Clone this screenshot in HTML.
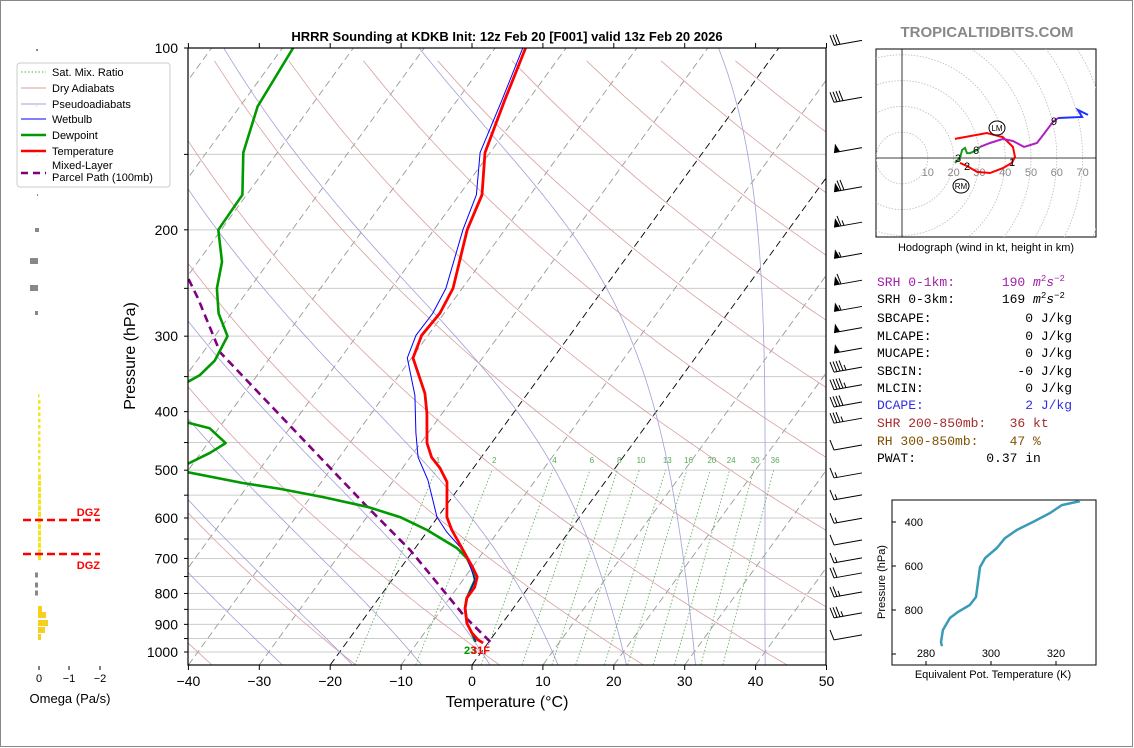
<!DOCTYPE html>
<html><head><meta charset="utf-8"><style>
body{margin:0;background:#fff;}
svg{display:block;font-family:"Liberation Sans",sans-serif;}
.mono{font-family:"Liberation Mono",monospace;font-size:13px;}
</style></head><body>
<svg id="root" width="1134" height="748" viewBox="0 0 1134 748" xmlns="http://www.w3.org/2000/svg">
<rect x="0.5" y="0.5" width="1132" height="746" fill="#fff" stroke="#888"/>
<defs><clipPath id="plotclip"><rect x="188" y="48" width="638" height="617"/></clipPath>
<clipPath id="hodoclip"><rect x="876" y="49" width="220" height="188"/></clipPath>
<clipPath id="theclip"><rect x="892" y="500" width="204" height="165"/></clipPath></defs>
<g id="bg" clip-path="url(#plotclip)"></g>
<g id="traces" clip-path="url(#plotclip)"></g>
<g id="axes"></g>
<text x="507" y="41" text-anchor="middle" font-size="13" font-weight="bold">HRRR Sounding at KDKB Init: 12z Feb 20 [F001] valid 13z Feb 20 2026</text>
<text x="987" y="37" text-anchor="middle" font-size="15" font-weight="bold" fill="#888">TROPICALTIDBITS.COM</text>
<text x="507" y="707" text-anchor="middle" font-size="16">Temperature (°C)</text>
<text x="135" y="356" text-anchor="middle" font-size="16" transform="rotate(-90 135 356)">Pressure (hPa)</text>
<g id="omega"></g>
<g id="legend"></g>
<g id="barbs"></g>
<g id="hodo"></g>
<g id="thetae"></g>
<g id="params">
<text class="mono" x="877" y="286" fill="#a020a8" xml:space="preserve">SRH 0-1km:      190 <tspan font-style="italic">m</tspan><tspan font-size="9" dy="-5">2</tspan><tspan font-style="italic" dy="5">s</tspan><tspan font-size="9" dy="-5">−2</tspan></text>
<text class="mono" x="877" y="303" fill="#000" xml:space="preserve">SRH 0-3km:      169 <tspan font-style="italic">m</tspan><tspan font-size="9" dy="-5">2</tspan><tspan font-style="italic" dy="5">s</tspan><tspan font-size="9" dy="-5">−2</tspan></text>
<text class="mono" x="877" y="322" xml:space="preserve">SBCAPE:            0 J/kg</text>
<text class="mono" x="877" y="340" xml:space="preserve">MLCAPE:            0 J/kg</text>
<text class="mono" x="877" y="357" xml:space="preserve">MUCAPE:            0 J/kg</text>
<text class="mono" x="877" y="375" xml:space="preserve">SBCIN:            -0 J/kg</text>
<text class="mono" x="877" y="392" xml:space="preserve">MLCIN:             0 J/kg</text>
<text class="mono" x="877" y="409" fill="#3030e0" xml:space="preserve">DCAPE:             2 J/kg</text>
<text class="mono" x="877" y="427" fill="#a52a2a" xml:space="preserve">SHR 200-850mb:   36 kt</text>
<text class="mono" x="877" y="445" fill="#7f5000" xml:space="preserve">RH 300-850mb:    47 %</text>
<text class="mono" x="877" y="462" xml:space="preserve">PWAT:         0.37 in</text>
</g>
</svg>
<script>
// ---------- data ----------
const tempP = [100,122,149,175,200,250,275,299,326,373,402,451,476,496,523,598,628,686,723,751,781,814,846,896,930,955,966];
const tempT = [-55.7,-53.3,-50.7,-46.8,-45.3,-41.3,-40.6,-40.9,-39.8,-34.5,-32.2,-29.1,-27.0,-24.7,-22.3,-18.7,-16.7,-12.5,-10.0,-8.3,-7.6,-7.6,-6.8,-5.0,-3.3,-1.7,-0.7];
const dewP = [100,125,149,175,200,226,250,275,300,329,348,371,410,426,451,468,500,504,525,537,554,575,598,628,673,699,732,760,814,846,896,930,962];
const dewT = [-88.5,-87.5,-84.8,-80.6,-80.4,-76.6,-74.6,-71.8,-68.2,-67.5,-68.1,-70.6,-67.9,-61.3,-57.5,-58.7,-61.9,-59.8,-51.0,-45.1,-38.2,-31.0,-25.3,-20.2,-14.1,-11.7,-9.6,-8.3,-7.6,-6.8,-5.0,-3.3,-1.9];
const wbP = [100,122,149,175,200,250,275,299,326,376,434,476,519,598,633,670,699,732,760,814,846,896,930,962];
const wbT = [-56.1,-53.7,-51.4,-47.6,-45.9,-42.3,-41.6,-41.7,-40.6,-35.7,-31.7,-28.9,-25.2,-20.1,-17.2,-13.8,-11.7,-9.8,-8.3,-7.6,-6.8,-5.0,-3.3,-1.8];
const parcelP = [962,875,678,575,319,260,200];
const parcelT = [0.2,-5.9,-20.5,-31.0,-67.6,-76.2,-88];
const barbP = [99,123,149,173,198,223,247,273,296,320,344,368,393,418,463,515,560,612,665,712,754,811,878,955];
const barbSpd = [30,40,50,70,65,55,60,55,50,50,45,45,40,35,10,15,15,15,10,15,20,25,35,10];
const mixW = [1,2,4,6,8,10,13,16,20,24,30,36];
const pLevels = [100,150,200,250,300,350,400,450,500,550,600,650,700,750,800,850,900,950,1000];
const pLabels = [100,200,300,400,500,600,700,800,900,1000];
const tTicks = [-40,-30,-20,-10,0,10,20,30,40,50];
const hodoRedU=[20.5,32.9,39.1,43.0,43.8,42.6,39.1,34.1,29.1,25.2,22.5];
const hodoRedV=[7.4,9.7,8.1,4.3,0.4,-1.9,-3.9,-5.8,-5.4,-3.1,-1.9];
const hodoGreenU=[20.5,22.5,23.3,24.4,25.2,26.4,29.1,30.2];
const hodoGreenV=[-1.9,0,3.1,3.9,1.9,1.9,3.1,4.3];
const hodoPurpleU=[30.2,34.1,39.1,43.0,47.3,52.3,54.7,58.5,60.5];
const hodoPurpleV=[4.3,5.8,7.4,6.6,4.3,5.8,8.9,14.0,15.5];
const hodoBlueU=[60.5,69.8,68.2,72.1];
const hodoBlueV=[15.5,15.9,18.6,16.7];
const thetaE=[284.9,284.6,285.2,287.4,289.8,293.5,295.4,296.6,298.2,301.8,304.3,308.0,312.9,318.2,321.8,327.4];
const thetaEP=[964,945,891,836,809,777,741,605,564,518,473,436,400,359,323,305];
// ---------- helpers ----------
const NS="http://www.w3.org/2000/svg";
function mk(parent,tag,attrs,text){const e=document.createElementNS(NS,tag);for(const k in attrs)e.setAttribute(k,attrs[k]);if(text!==undefined)e.textContent=text;parent.appendChild(e);return e;}
const X0=472,KX=7.09,SK=0.727,YB=665,Y1000=652,DEC=604;
function py(p){return Y1000-DEC*Math.log10(1000/p);}
function px(T,p){return X0+KX*T+SK*(YB-py(p));}
function pathPT(P,T){return P.map((p,i)=>(i?'L':'M')+px(T[i],p).toFixed(1)+','+py(p).toFixed(1)).join('');}
const bg=document.getElementById('bg'),tr=document.getElementById('traces'),ax=document.getElementById('axes');
for(const p of pLevels){const l=mk(bg,'line',{x1:188,x2:826,y1:py(p),y2:py(p),stroke:'#ccc','stroke-width':1});

}
for(let T=-140;T<=50;T+=10){const pt=1050,pb=90;const blk=(T===0||T===-20);
const l=mk(bg,'line',{x1:px(T,pt),y1:py(pt),x2:px(T,pb),y2:py(pb),stroke:blk?'#000':'#999','stroke-width':0.9,'stroke-dasharray':'7,4'});

}
for(let t0=-40;t0<=200;t0+=20){let d='';for(let p=1050;p>=95;p-=15){const T=(t0+273.15)*Math.pow(p/1000,0.286)-273.15;d+=(d?'L':'M')+px(T,p).toFixed(1)+','+py(p).toFixed(1);}
const l=mk(bg,'path',{d:d,fill:'none',stroke:'#d9a0a0','stroke-width':0.8});

}
function dTdp(T,p){const Rd=287.04,Cp=1004,L=2.501e6,eps=0.622;const es=6.112*Math.exp(17.67*(T-273.15)/(T-29.65));const rs=eps*es/(p-es);return ((Rd*T+L*rs)/p)/(Cp+L*L*rs*eps/(Rd*T*T));}
for(let t0=-30;t0<=45;t0+=10){let T=t0+273.15,d='';
let Tb=T;for(let p=1000;p<1050;p+=5){Tb+=dTdp(Tb,p)*5;}
let Tc=Tb;for(let p=1050;p>=100;p-=5){d+=(d?'L':'M')+px(Tc-273.15,p).toFixed(1)+','+py(p).toFixed(1);Tc-=dTdp(Tc,p)*5;}
const l=mk(bg,'path',{d:d,fill:'none',stroke:'#a0a0d8','stroke-width':0.8});

}
function tdW(w,p){const e=w*p/(622+w);const a=Math.log(e/6.112);return 243.5*a/(17.67-a);}
for(const w of mixW){const x1=px(tdW(w,1050),1050),x2=px(tdW(w,500),500);
const l=mk(bg,'line',{x1:x1,y1:py(1050),x2:x2,y2:py(500),stroke:'#5a5','stroke-width':0.8,'stroke-dasharray':'1.5,2'});


const t=mk(bg,'text',{x:px(tdW(w,490),490),y:py(490)-2,'font-size':8,fill:'#5a5','text-anchor':'middle'},String(w));

}
let e;
e=mk(tr,'path',{d:pathPT(parcelP,parcelT),fill:'none',stroke:'#800080','stroke-width':2.6,'stroke-dasharray':'8,5'});


e=mk(tr,'path',{d:pathPT(dewP,dewT),fill:'none',stroke:'#009900','stroke-width':2.6,'stroke-linejoin':'round'});


e=mk(tr,'path',{d:pathPT(wbP,wbT),fill:'none',stroke:'#0000ff','stroke-width':1});


e=mk(tr,'path',{d:pathPT(tempP,tempT),fill:'none',stroke:'#ff0000','stroke-width':2.8,'stroke-linejoin':'round'});


e=mk(tr,'text',{x:464,y:654,'font-size':11,'font-weight':'bold',fill:'#009900'},'23');


e=mk(tr,'text',{x:471,y:654,'font-size':11,'font-weight':'bold',fill:'#ff0000'},'31F');


e=mk(ax,'rect',{x:188,y:48,width:638,height:617,fill:'none',stroke:'#000','stroke-width':1.2});


for(const p of pLevels){mk(ax,'line',{x1:184,x2:188,y1:py(p),y2:py(p),stroke:'#000'});}
for(const p of pLabels){e=mk(ax,'text',{x:178,y:py(p)+5,'font-size':14,'text-anchor':'end'},String(p));

}
for(const T of tTicks){const x=X0+KX*T;mk(ax,'line',{x1:x,x2:x,y1:665,y2:670,stroke:'#000'});mk(ax,'line',{x1:x,x2:x,y1:48,y2:43,stroke:'#000'});
e=mk(ax,'text',{x:x,y:686,'font-size':14,'text-anchor':'middle'},(T<0?'−':'')+Math.abs(T));

}
const om=document.getElementById('omega');
const omGray=[[50,36,38,2],[106,35,38,2],[155,36,38,2],[195,37,38,2],[230,35,39,4],[261,30,38,6],[288,30,38,6],[313,35,38,4],[575,35,38,5],[585,35,38,5],[593,35,38,5]];
for(const b of omGray){e=mk(om,'rect',{x:b[1],y:b[0]-b[3]/2,width:b[2]-b[1],height:b[3],fill:'#888'});

}
for(let y=394;y<=560;y+=6.2){const w=(y>400&&y<560)?(y>470?3:2.5):1.5;e=mk(om,'rect',{x:38,y:y,width:w,height:(y>470?5:3.5),fill:'#f4e320'});

}
const omY=[[606,38,42],[612,38,46],[620,38,48],[627,38,45],[634,38,41]];
for(const b of omY){e=mk(om,'rect',{x:b[1],y:b[0],width:b[2]-b[1],height:6,fill:'#f7cf20'});

}
for(const y of [520,554]){e=mk(om,'line',{x1:23,x2:100,y1:y,y2:y,stroke:'#ff0000','stroke-width':2.5,'stroke-dasharray':'8,4'});

}
e=mk(om,'text',{x:100,y:516,'font-size':11,'font-weight':'bold',fill:'#ff0000','text-anchor':'end'},'DGZ');


e=mk(om,'text',{x:100,y:569,'font-size':11,'font-weight':'bold',fill:'#ff0000','text-anchor':'end'},'DGZ');


[[39,'0'],[69,'−1'],[100,'−2']].forEach(t=>{mk(om,'line',{x1:t[0],x2:t[0],y1:666,y2:670,stroke:'#000'});
e=mk(om,'text',{x:t[0],y:682,'font-size':11,'text-anchor':'middle'},t[1]);

});
e=mk(om,'text',{x:70,y:703,'font-size':13,'text-anchor':'middle'},'Omega (Pa/s)');


const lg=document.getElementById('legend');
mk(lg,'rect',{x:17,y:63,width:153,height:124,rx:3,fill:'#fff','fill-opacity':0.9,stroke:'#ccc'});
const legItems=[['Sat. Mix. Ratio','#5a5',1,'1.5,2',72],['Dry Adiabats','#d9a0a0',1,'',88],['Pseudoadiabats','#a0a0d8',1,'',104],['Wetbulb','#0000ff',1,'',119],['Dewpoint','#009900',2.6,'',135],['Temperature','#ff0000',2.6,'',151]];
for(const it of legItems){mk(lg,'line',{x1:21,x2:46,y1:it[4],y2:it[4],stroke:it[1],'stroke-width':it[2],'stroke-dasharray':it[3]});
e=mk(lg,'text',{x:52,y:it[4]+4,'font-size':11},it[0]);

}
mk(lg,'line',{x1:21,x2:46,y1:173,y2:173,stroke:'#800080','stroke-width':2.6,'stroke-dasharray':'7,5'});
e=mk(lg,'text',{x:52,y:169,'font-size':11},'Mixed-Layer');


e=mk(lg,'text',{x:52,y:181,'font-size':11},'Parcel Path (100mb)');


const bb=document.getElementById('barbs');
for(let i=0;i<barbP.length;i++){const y=py(barbP[i]);const g=mk(bb,'g',{});


const xs=834,xe=862,ye=y-5;mk(g,'line',{x1:xs,y1:y,x2:xe,y2:ye,stroke:'#000','stroke-width':1});
let s=barbSpd[i],pos=0;const dx=(xe-xs)/28,dy=(ye-y)/28;
while(s>=50){const bx=xs+pos*dx,by=y+pos*dy;mk(g,'polygon',{points:`${bx},${by} ${bx+6*dx},${by+6*dy} ${bx+1},${by-9}`,fill:'#000'});pos+=7;s-=50;}
while(s>=10){const bx=xs+pos*dx,by=y+pos*dy;mk(g,'line',{x1:bx,y1:by,x2:bx-4,y2:by-10,stroke:'#000'});pos+=3;s-=10;}
if(s>=5){const bx=xs+pos*dx,by=y+pos*dy;mk(g,'line',{x1:bx,y1:by,x2:bx-2,y2:by-5,stroke:'#000'});}
}
const hd=document.getElementById('hodo');const HX=902,HY=158,HK=2.58;
e=mk(hd,'rect',{x:876,y:49,width:220,height:188,fill:'#fff',stroke:'#000'});


const hg=mk(hd,'g',{'clip-path':'url(#hodoclip)'});
for(let r=10;r<=80;r+=10){mk(hg,'circle',{cx:HX,cy:HY,r:r*HK,fill:'none',stroke:'#bbb','stroke-width':0.8,'stroke-dasharray':'1.5,1.5'});}
mk(hg,'line',{x1:876,x2:1096,y1:HY,y2:HY,stroke:'#000','stroke-width':0.8});
mk(hg,'line',{x1:HX,x2:HX,y1:49,y2:237,stroke:'#000','stroke-width':0.8});
for(let r=10;r<=70;r+=10){mk(hg,'text',{x:HX+r*HK,y:HY+18,'font-size':11,fill:'#888','text-anchor':'middle'},String(r));}
function hpath(U,V){return U.map((u,i)=>(i?'L':'M')+(HX+u*HK).toFixed(1)+','+(HY-V[i]*HK).toFixed(1)).join('');}
[[hodoRedU,hodoRedV,'#ff0000','hodo-0-3km'],[hodoGreenU,hodoGreenV,'#1a9a1a','hodo-3-6km'],[hodoPurpleU,hodoPurpleV,'#b020c0','hodo-6-9km'],[hodoBlueU,hodoBlueV,'#2030ff','hodo-9km-plus']].forEach(s=>{
e=mk(hg,'path',{d:hpath(s[0],s[1]),fill:'none',stroke:s[2],'stroke-width':2});

});
[['1',1012,166],['2',967,170],['3',958,162],['6',976,154],['9',1054,125]].forEach(t=>{mk(hg,'text',{x:t[1],y:t[2],'font-size':11,'text-anchor':'middle'},t[0]);});
[['LM',997,128],['RM',961,186]].forEach(t=>{mk(hg,'ellipse',{cx:t[1],cy:t[2],rx:8,ry:7,fill:'#fff',stroke:'#000','stroke-width':1});mk(hg,'text',{x:t[1],y:t[2]+3,'font-size':8,'text-anchor':'middle'},t[0]);});
e=mk(hd,'text',{x:986,y:251,'font-size':11,'text-anchor':'middle'},'Hodograph (wind in kt, height in km)');


const te=document.getElementById('thetae');
function tx(k){return 926+(k-280)*3.25;} function ty(p){return 522+(p-400)*0.22;}
e=mk(te,'rect',{x:892,y:500,width:204,height:165,fill:'#fff',stroke:'#000'});


e=mk(te,'path',{'clip-path':'url(#theclip)',d:thetaE.map((k,i)=>(i?'L':'M')+tx(k).toFixed(1)+','+ty(thetaEP[i]).toFixed(1)).join(''),fill:'none',stroke:'#3a9ab8','stroke-width':2.5,'stroke-linejoin':'round'});


[400,600,800,1000].forEach(p=>{mk(te,'line',{x1:892,x2:896,y1:ty(p),y2:ty(p),stroke:'#000'});if(p<1000)mk(te,'text',{x:923,y:ty(p)+4,'font-size':11,'text-anchor':'end'},String(p));});
[280,300,320].forEach(k=>{mk(te,'line',{x1:tx(k),x2:tx(k),y1:665,y2:661,stroke:'#000'});mk(te,'text',{x:tx(k),y:657,'font-size':11,'text-anchor':'middle'},String(k));});
e=mk(te,'text',{x:993,y:678,'font-size':11,'text-anchor':'middle'},'Equivalent Pot. Temperature (K)');


e=mk(te,'text',{x:885,y:582,'font-size':11,'text-anchor':'middle',transform:'rotate(-90 885 582)'},'Pressure (hPa)');


</script>
</body></html>
